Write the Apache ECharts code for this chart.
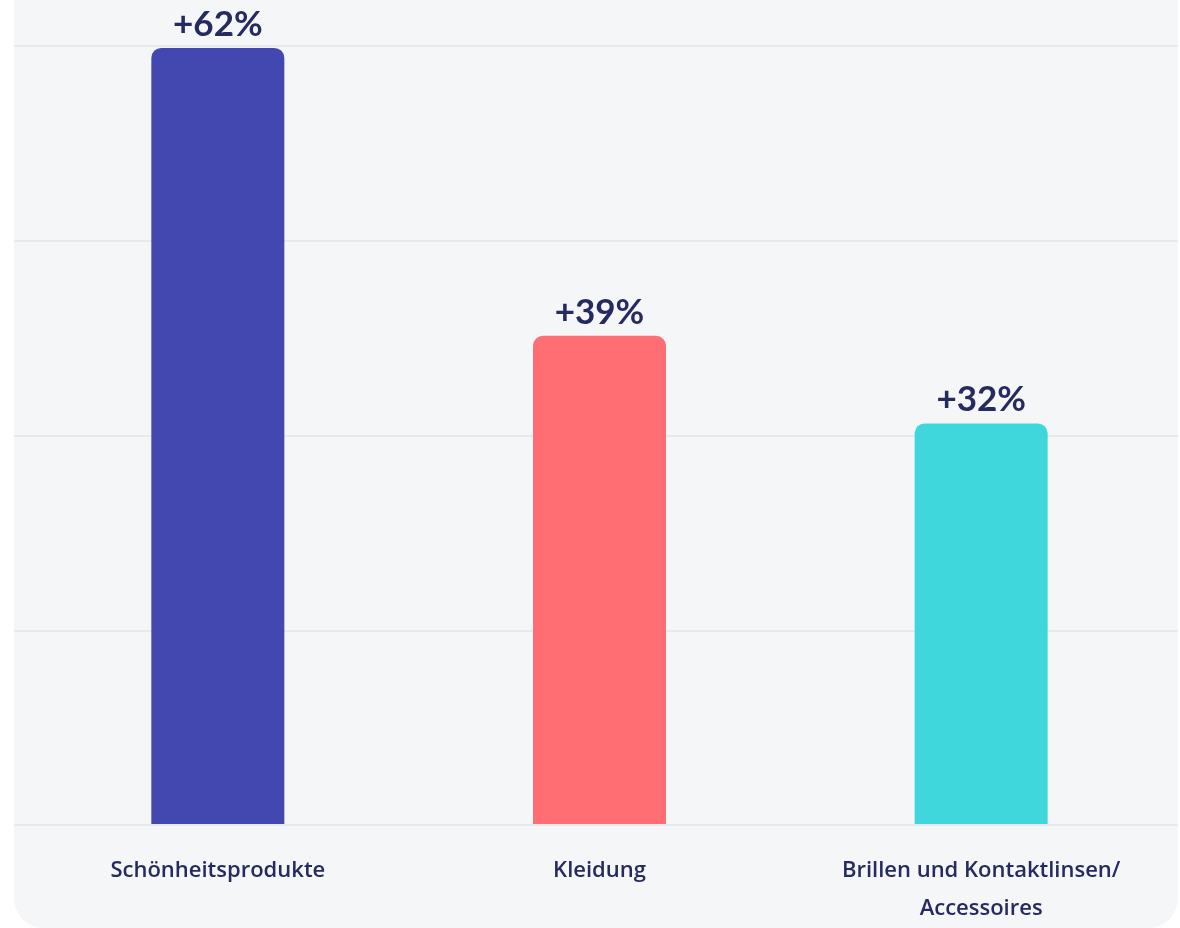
<!DOCTYPE html>
<html>
<head>
<meta charset="utf-8">
<script src="https://cdn.jsdelivr.net/npm/echarts@6/dist/echarts.min.js"></script>
<style>
  html, body { margin: 0; padding: 0; background: #ffffff; }
  #chart { width: 1180px; height: 928px; }
</style>
</head>
<body>
<div id="chart"></div>
<script>
// Growth by product category
const categories = ['Schönheitsprodukte', 'Kleidung', 'Brillen und Kontaktlinsen/\nAccessoires'];
const growthValues = [62, 39, 32];
const barColors = ['#4348b0', '#ff6e73', '#40d7dc'];

const textColor = '#252a5f';
const valueFont = 'Lato, "Open Sans", sans-serif';
const categoryFont = '"Open Sans", Lato, sans-serif';
const yMax = 62.15;

const chart = echarts.init(document.getElementById('chart'), null, { renderer: 'canvas' });

chart.setOption({
  backgroundColor: '#ffffff',
  animation: false,
  graphic: [{
    type: 'rect',
    z: -10,
    silent: true,
    shape: { x: 14, y: -40, width: 1164, height: 968, r: 30 },
    style: { fill: '#f5f6f8' }
  }],
  grid: [
    // horizontal guide lines across the full panel
    { left: 14, right: 2, top: 46, bottom: 103 },
    // bars
    { left: 27, right: 8, top: 46, bottom: 103 }
  ],
  xAxis: [
    { gridIndex: 0, type: 'category', data: categories, show: false },
    {
      gridIndex: 1,
      type: 'category',
      data: categories,
      axisLine: { show: false },
      axisTick: { show: false },
      axisLabel: {
        color: textColor,
        fontFamily: categoryFont,
        fontSize: 22,
        fontWeight: 600,
        lineHeight: 38,
        margin: 28,
        interval: 0
      }
    }
  ],
  yAxis: [
    {
      gridIndex: 0,
      type: 'value',
      min: 0,
      max: yMax,
      interval: yMax / 4,
      axisLabel: { show: false },
      axisLine: { show: false },
      axisTick: { show: false },
      splitLine: { show: true, lineStyle: { color: '#e8e9ee', width: 2 } }
    },
    {
      gridIndex: 1,
      type: 'value',
      min: 0,
      max: yMax,
      interval: yMax / 4,
      show: false,
      splitLine: { show: false }
    }
  ],
  series: [{
    type: 'bar',
    xAxisIndex: 1,
    yAxisIndex: 1,
    barWidth: 133,
    data: growthValues.map((v, i) => ({
      value: v,
      itemStyle: { color: barColors[i], borderRadius: [10, 10, 0, 0] }
    })),
    label: {
      show: true,
      position: 'top',
      distance: 6,
      color: textColor,
      fontFamily: valueFont,
      fontSize: 35,
      fontWeight: 'bold',
      formatter: p => '+' + p.value + '%'
    }
  }]
});
</script>
</body>
</html>
